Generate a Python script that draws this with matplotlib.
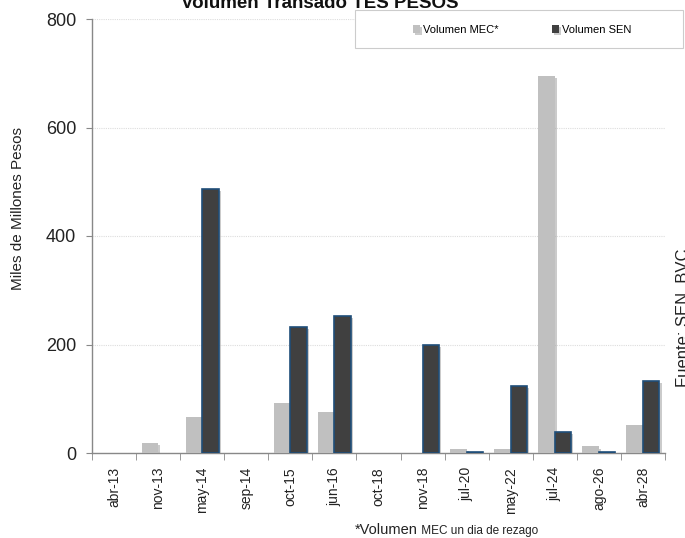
import matplotlib
matplotlib.use("Agg")
import matplotlib.pyplot as plt
import matplotlib.patheffects as pe
from matplotlib.patches import Rectangle
import numpy as np

categories = ["abr-13", "nov-13", "may-14", "sep-14", "oct-15", "jun-16", "oct-18",
              "nov-18", "jul-20", "may-22", "jul-24", "ago-26", "abr-28"]
mec = [0, 18, 67, 0, 93, 76, 0, 0, 8, 7, 695, 12, 51]
sen = [0, 0, 487, 0, 232, 252, 0, 199, 2, 124, 38, 2, 132]
yticks = [0, 200, 400, 600, 800]

plt.rcParams['font.family'] = ['Liberation Sans', 'DejaVu Sans']

fig = plt.figure(figsize=(6.85, 5.38), dpi=100)
ax = fig.add_axes([92/685, 1-453/538, 573/685, 434/538])

x = np.arange(len(categories))
w = 0.375
shadow = [pe.SimplePatchShadow(offset=(1.5, -1.5), shadow_rgbFace='#999999', alpha=0.5), pe.Normal()]
b1 = ax.bar(x + 0.5 - w, mec, width=w, align='edge', color='#c0c0c0', edgecolor='none',
            label='Volumen MEC*', zorder=3, path_effects=shadow)
b2 = ax.bar(x + 0.5, sen, width=w, align='edge', color='#404040', edgecolor='#1f4e79',
            linewidth=[1.2 if v > 0 else 0 for v in sen], label='Volumen SEN', zorder=3,
            path_effects=shadow)

ax.set_xlim(0, len(categories))
ax.set_ylim(0, 800)
ax.set_yticks(yticks)
ax.set_yticklabels([str(v) for v in yticks], fontsize=13, color='#222222')
ax.yaxis.grid(True, color='#dddddd', linewidth=0.8, linestyle=(0, (1, 1)), zorder=0)
ax.set_axisbelow(True)

ax.set_xticks(x + 0.5)
ax.set_xticklabels(categories, rotation=90, fontsize=10, color='#222222')
ax.set_xticks(np.arange(len(categories) + 1), minor=True)
ax.tick_params(axis='x', which='major', length=0, pad=10)
ax.tick_params(axis='x', which='minor', length=5, color='#888888', direction='out')
ax.tick_params(axis='y', length=4.5, color='#888888', pad=7)

for s in ['top', 'right']:
    ax.spines[s].set_visible(False)
for s in ['left', 'bottom']:
    ax.spines[s].set_color('#888888')
    ax.spines[s].set_linewidth(1.0)

fig.text(18/685, 1 - 209/538, 'Miles de Millones Pesos', rotation=90, ha='center', va='center',
         fontsize=11, color='#222222')

fig.text(320/685, 1 - 8/538, 'Volumen Transado TES PESOS', ha='center', va='baseline',
         fontsize=13.5, fontweight='bold', color='#111111')

# legend box
fig.patches.append(Rectangle((355/685, 1-48/538), 328/685, 38/538, transform=fig.transFigure,
                             facecolor='white', edgecolor='#cccccc', linewidth=0.8, zorder=5))
for h, xpos in [(b1, 413), (b2, 552)]:
    lg = fig.legend(handles=[h], loc='center left', bbox_to_anchor=(xpos/685, 1-30/538),
                    frameon=False, fontsize=8, handlelength=0.65, handleheight=0.65,
                    handletextpad=0.25, borderpad=0, borderaxespad=0)
    lg.set_zorder(6)

fig.text(676/685, 1 - 318/538, 'Fuente: SEN, BVC', rotation=90, ha='left', va='center',
         fontsize=12, color='#222222')

t1 = fig.text(355/685, 1 - 534/538, '*Volumen', ha='left', va='baseline', fontsize=10.5,
              color='#222222')
ax.annotate(' MEC un dia de rezago', xy=(1, 0), xycoords=t1, ha='left', va='bottom',
            fontsize=8.5, color='#222222', annotation_clip=False)

fig.savefig('out.png', dpi=100)
